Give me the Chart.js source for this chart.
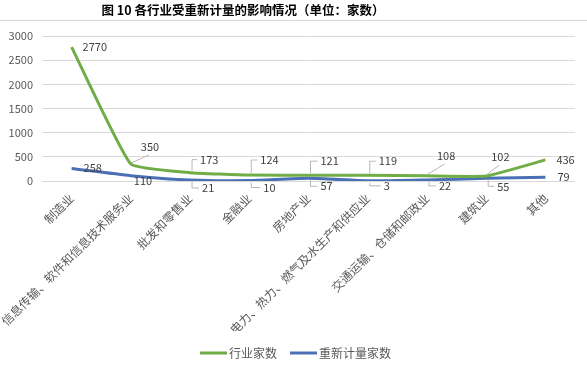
<!DOCTYPE html>
<html><head><meta charset="utf-8">
<script src="https://cdn.jsdelivr.net/npm/chart.js@4"></script>
<style>html,body{margin:0;padding:0;background:#fff}#wrap{width:587px;height:369px}</style>
</head><body><div id="wrap"><canvas id="c" width="587" height="369"></canvas></div>
<script>
const categories = ['制造业','信息传输、软件和信息技术服务业','批发和零售业','金融业','房地产业','电力、热力、燃气及水生产和供应业','交通运输、仓储和邮政业','建筑业','其他'];
const industryCount = [2770,350,173,124,121,119,108,102,436];
const remeasuredCount = [258,110,21,10,57,3,22,55,79];
const yTicks = [0,500,1000,1500,2000,2500,3000];
const titleText = '图 10 各行业受重新计量的影响情况（单位：家数）';
const FONT = '"Noto Sans CJK SC", "Noto Sans", sans-serif';

// label placement: [dx, dy, leader type]
const labelLayout = {
  0: [[11,0,'none'],[10,-17,'diag'],[10,-13,'up'],[11,-15,'up'],[12,-14,'up'],[11,-14,'up'],[10,-20,'diag'],[5,-19,'diag'],[11,0,'none']],
  1: [[12,-1,'none'],[3,5,'none'],[12,8,'down'],[14,7,'down'],[12,8,'down'],[16,5,'down'],[12,6,'down'],[11,8,'down'],[12,0,'none']]
};
// legend item start positions
const legendX = [200, 290];
const legendY = 353;

const overlay = {
  id:'overlay',
  afterDraw(chart){
    const ctx = chart.ctx;
    ctx.save();
    ctx.font = 'bold 12.5px ' + FONT;
    ctx.fillStyle = '#000';
    ctx.textAlign = 'center'; ctx.textBaseline = 'middle';
    ctx.fillText(titleText, 243, 10);
    ctx.strokeStyle = '#d9d9d9'; ctx.lineWidth = 1;
    ctx.beginPath(); ctx.moveTo(0,20.5); ctx.lineTo(587,20.5); ctx.stroke();
    ctx.font = '11px ' + FONT;
    ctx.fillStyle = '#404040';
    ctx.textAlign = 'left';
    chart.data.datasets.forEach((ds, di) => {
      const meta = chart.getDatasetMeta(di);
      meta.data.forEach((pt, i) => {
        const [dx, dy, lead] = labelLayout[di][i];
        const lx = pt.x + dx, ly = pt.y + dy;
        ctx.strokeStyle = '#a6a6a6'; ctx.lineWidth = 0.8;
        if (lead === 'up' || lead === 'down') {
          const bx = pt.x + 2;
          ctx.beginPath(); ctx.moveTo(bx, pt.y + (lead==='up'?-2:2)); ctx.lineTo(bx, ly); ctx.lineTo(lx - 3, ly); ctx.stroke();
        } else if (lead === 'diag') {
          ctx.beginPath(); ctx.moveTo(pt.x, pt.y - 1); ctx.lineTo(lx + 8, ly + 8); ctx.stroke();
        }
        ctx.fillText(String(ds.data[i]), lx, ly);
      });
      // legend
      const x0 = legendX[di];
      ctx.strokeStyle = ds.borderColor; ctx.lineWidth = 3;
      ctx.beginPath(); ctx.moveTo(x0, legendY); ctx.lineTo(x0 + 27, legendY); ctx.stroke();
      ctx.font = '12px ' + FONT; ctx.fillStyle = '#595959';
      ctx.fillText(ds.label, x0 + 29, legendY);
      ctx.font = '11px ' + FONT; ctx.fillStyle = '#404040';
    });
    ctx.restore();
  }
};

new Chart(document.getElementById('c'), {
  type:'line',
  data:{
    labels: categories,
    datasets:[
      {label:'行业家数', data: industryCount, borderColor:'#70ad47', backgroundColor:'#70ad47', borderWidth:3, pointRadius:0, tension:0.12},
      {label:'重新计量家数', data: remeasuredCount, borderColor:'#4a6fb5', backgroundColor:'#4a6fb5', borderWidth:3, pointRadius:0, tension:0.2}
    ]
  },
  options:{
    responsive:false, animation:false,
    layout:{padding:{top:36,right:12,left:0,bottom:38}},
    plugins:{
      title:{display:false},
      tooltip:{enabled:false},
      legend:{display:false}
    },
    scales:{
      x:{offset:true, grid:{display:false}, border:{display:false},
         afterFit(s){ s.height = 150; },
         ticks:{color:'#595959', font:{family:FONT, size:12}, maxRotation:45, minRotation:45, autoSkip:false, padding:2}},
      y:{min:0, max:3000, afterBuildTicks(s){ s.ticks = yTicks.map(v=>({value:v})); },
         afterFit(s){ s.width = 42; },
         grid:{color:'#d9d9d9', drawTicks:false}, border:{display:false},
         ticks:{color:'#595959', font:{family:FONT, size:11}, padding:9, callback:v=>String(v)}}
    }
  },
  plugins:[overlay]
});
</script></body></html>
